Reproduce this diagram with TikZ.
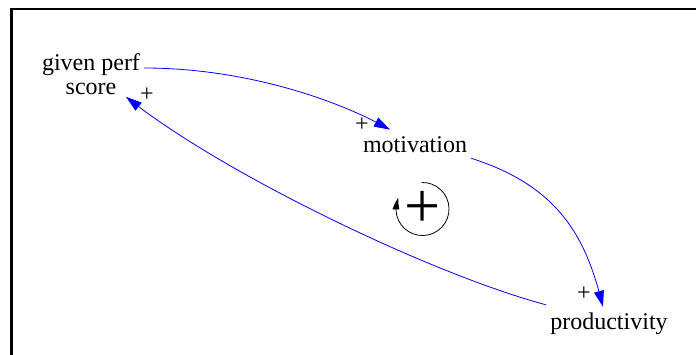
\documentclass[tikz,border=0pt]{standalone}
\usepackage{fontspec}
\setmainfont{Liberation Serif}
\usetikzlibrary{arrows.meta, positioning, bending}

\begin{document}
\begin{tikzpicture}[
    x=0.75pt, y=-0.75pt,
    var/.style={
        inner sep=0pt,
        align=center,
        font=\fontsize{18}{18}\selectfont
    },
    sign/.style={inner sep=0pt, font=\fontsize{18}{18}\selectfont},
    loopsign/.style={inner sep=0pt, font=\fontsize{48}{48}\selectfont},
    link/.style={-{Triangle[length=12pt,width=7.5pt]}, blue, line width=0.6pt},
    loopline/.style={-{Triangle[length=9pt,width=5pt,bend]}, line width=0.6pt}
]
\useasboundingbox (0,0) rectangle (696,354);
\draw[line width=1.6pt] (11.5,360) -- (11.5,9) -- (700,9);

\node[var] (perf) at (91,74) {given perf\\score};
\node[var] (motiv) at (415,145) {motivation};
\node[var] (prod) at (609,324) {productivity};

\node[sign] (s1) at (147,95) {+};
\node[sign] (s2) at (362,125) {+};
\node[sign] (s3) at (584,294) {+};

\draw[link] ([shift={(4,-6)}]perf.east) .. controls +(100,0) and +(-52,-30) .. ([shift={(-25,-7)}]motiv.north);
\draw[link] ([shift={(4,5)}]motiv.south east) .. controls +(95,30) and +(-15,-60) .. ([shift={(-6,-6)}]prod.north);
\draw[link] ([shift={(-4,-8)}]prod.north west) .. controls +(-116,-31) and +(93,75) .. ([shift={(35,2)}]perf.south);

% loop polarity
\node[loopsign] (loop) at (422.5,209) {+};
\draw[loopline] (loop.center) ++(92:19.9pt) arc[start angle=92, end angle=-205, radius=19.9pt];

\end{tikzpicture}
\end{document}
